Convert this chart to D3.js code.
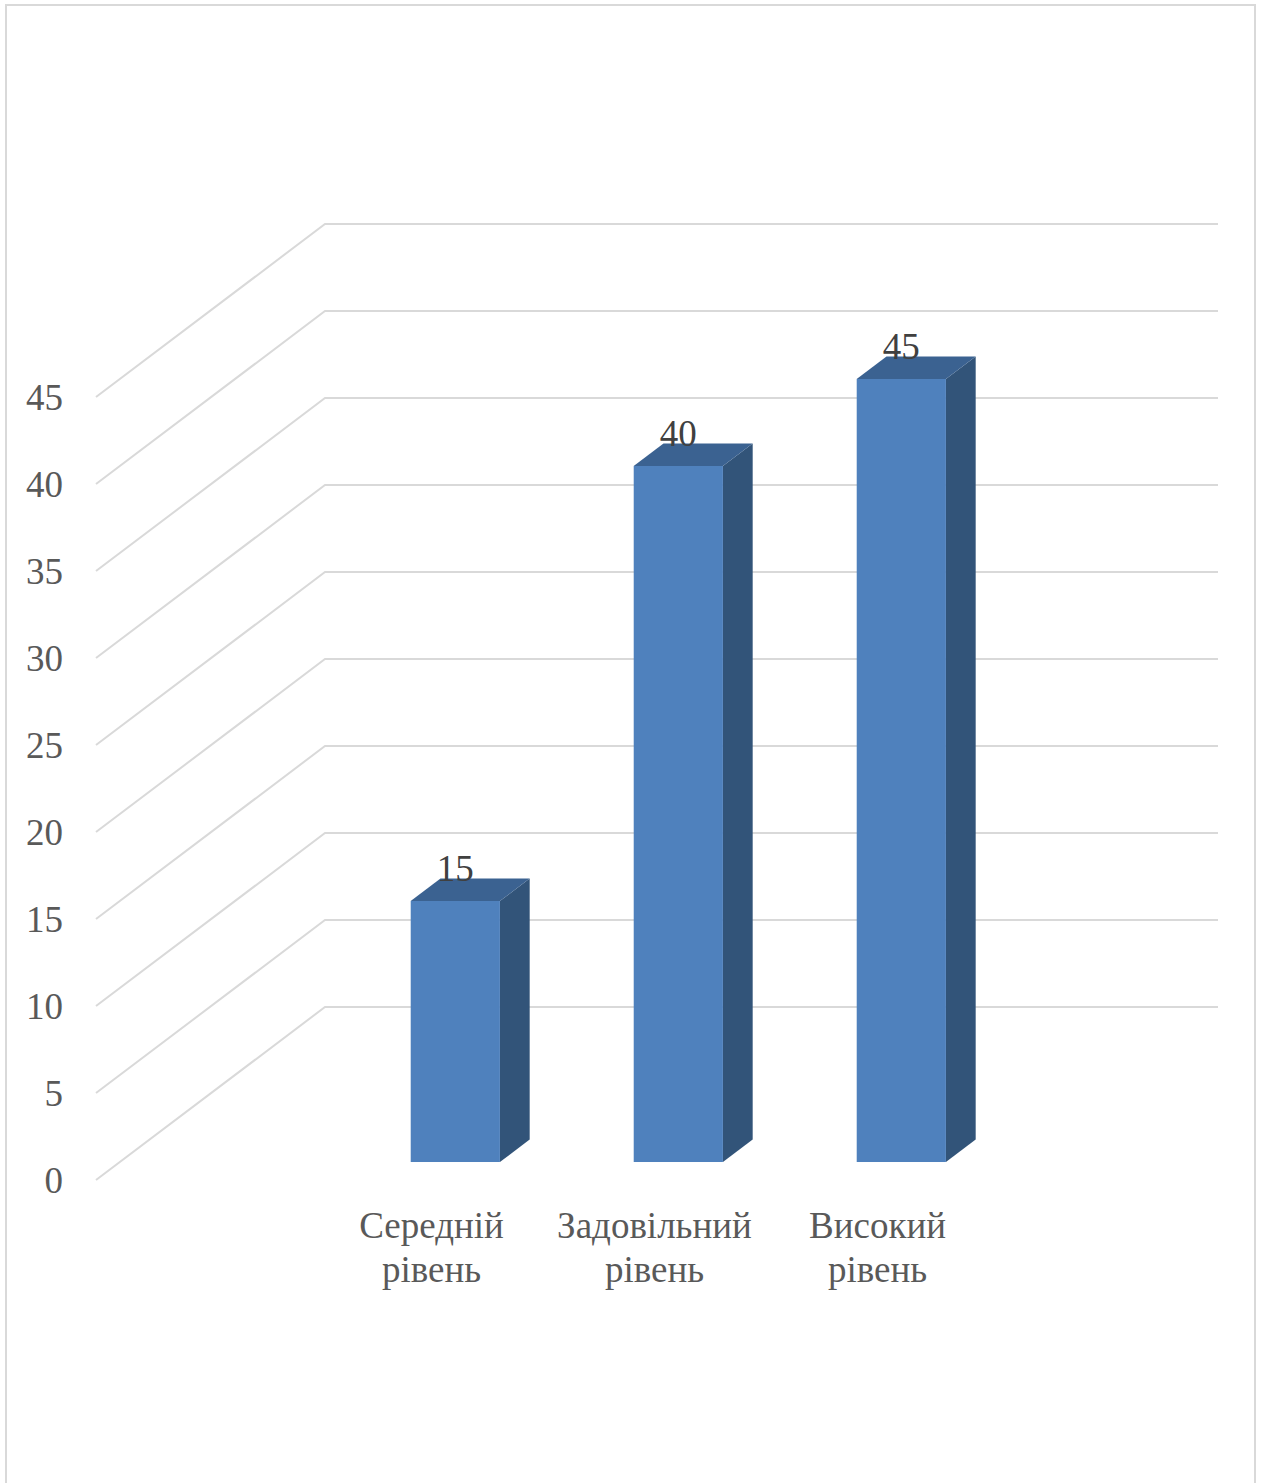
<!DOCTYPE html>
<html>
<head>
<meta charset="utf-8">
<script src="https://cdn.jsdelivr.net/npm/d3@7"></script>
<style>
  html, body { margin: 0; padding: 0; background: #ffffff; }
  svg { display: block; }
  text { font-family: "Liberation Serif", "Times New Roman", Times, serif; }
</style>
</head>
<body>
<script>
// Category labels (two lines each), values and axis ticks
const categories = ["Середній рівень", "Задовільний рівень", "Високий рівень"];
const categoryLines = [["Середній", "рівень"], ["Задовільний", "рівень"], ["Високий", "рівень"]];
const values = [15, 40, 45];
const yTicks = [0, 5, 10, 15, 20, 25, 30, 35, 40, 45];

const W = 1261, H = 1483;
const svg = d3.select("body").append("svg").attr("width", W).attr("height", H);

// outer frame
svg.append("rect")
  .attr("x", 6).attr("y", 5).attr("width", 1249).attr("height", H + 10)
  .attr("fill", "#fff").attr("stroke", "#d9d9d9").attr("stroke-width", 2);

// Value scale on the front plane, and the depth offset of the oblique view
const y = d3.scaleLinear().domain([0, 45]).range([1180, 397]);
const depthX = d3.scaleLinear().domain([0, 1]).range([0, 229]);
const depthY = d3.scaleLinear().domain([0, 1]).range([0, -173]);
const wallRight = 1218;

// category positions on the front plane
const x = d3.scaleBand().domain(categories).range([320, 989])
  .paddingInner(0.6).paddingOuter(0.3);

const grid = svg.append("g").attr("stroke", "#d9d9d9").attr("stroke-width", 2).attr("fill", "none");
grid.selectAll("path").data(yTicks).join("path")
  .attr("d", t => {
    const x0 = 96, y0 = y(t);
    const x1 = x0 + depthX(1), y1 = y0 + depthY(1);
    return `M${x0},${y0}L${x1},${y1}L${wallRight},${y1}`;
  });

// tick labels
svg.append("g").selectAll("text").data(yTicks).join("text")
  .attr("x", 63).attr("y", t => y(t)).attr("dy", "0.35em")
  .attr("text-anchor", "end")
  .attr("font-size", 37).attr("fill", "#595959")
  .text(d => d);

// bars sit between these two depths
const dFront = 0.104, dBack = 0.234;
const bars = svg.append("g");
categories.forEach((c, i) => {
  const v = values[i];
  const ox = depthX(dFront), oy = depthY(dFront);
  const bx = depthX(dBack) - ox, by = depthY(dBack) - oy;
  const x0 = x(c) + ox, x1 = x0 + x.bandwidth();
  const yTop = y(v) + oy, yBot = y(0) + oy;
  // side face
  bars.append("path")
    .attr("d", `M${x1},${yTop}L${x1 + bx},${yTop + by}L${x1 + bx},${yBot + by}L${x1},${yBot}Z`)
    .attr("fill", "#325479");
  // top face
  bars.append("path")
    .attr("d", `M${x0},${yTop}L${x0 + bx},${yTop + by}L${x1 + bx},${yTop + by}L${x1},${yTop}Z`)
    .attr("fill", "#3b6291");
  // front face
  bars.append("rect")
    .attr("x", x0).attr("y", yTop).attr("width", x.bandwidth()).attr("height", yBot - yTop)
    .attr("fill", "#4f81bd");
  // value label
  bars.append("text")
    .attr("x", x0 + x.bandwidth() / 2).attr("y", yTop - 20)
    .attr("text-anchor", "middle")
    .attr("font-size", 37).attr("fill", "#404040")
    .text(v);
});

// category labels
const lab = svg.append("g")
  .attr("font-size", 37).attr("fill", "#595959").attr("text-anchor", "middle");
categories.forEach((c, i) => {
  const t = lab.append("text").attr("x", x(c) + x.bandwidth() / 2).attr("y", 1238);
  categoryLines[i].forEach((line, k) => {
    t.append("tspan").attr("x", x(c) + x.bandwidth() / 2).attr("dy", k === 0 ? 0 : 44).text(line);
  });
});
</script>
</body>
</html>
